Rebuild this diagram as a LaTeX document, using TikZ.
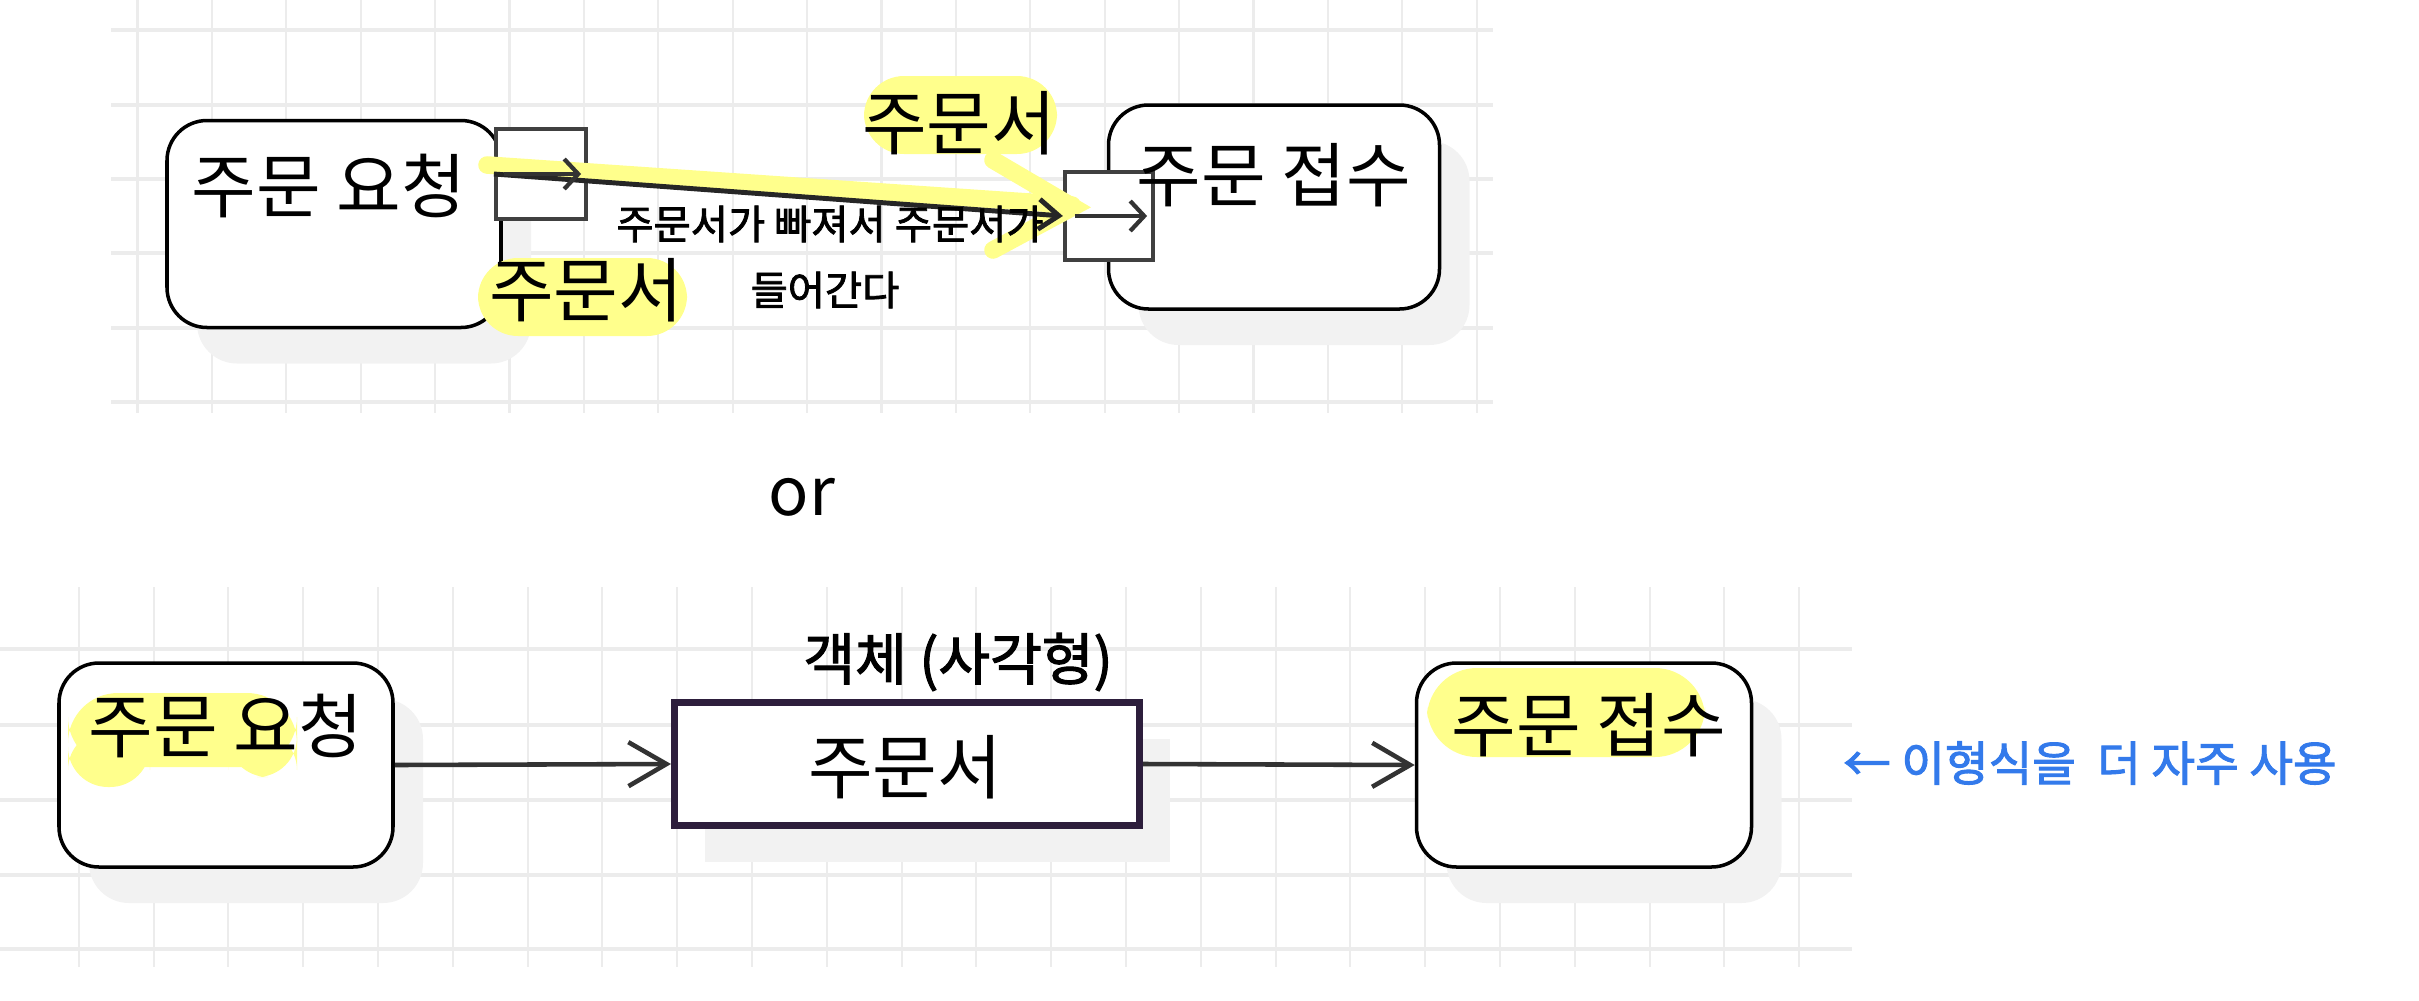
\documentclass[tikz,border=0pt]{standalone}
\usepackage{fontspec}
\setmainfont{Noto Sans CJK KR}
\newfontfamily\handfont{Noto Sans CJK KR}[FakeBold=2]
\usetikzlibrary{arrows.meta,shadows}
\definecolor{hl}{RGB}{255,255,140}
\definecolor{gridc}{RGB}{236,236,236}
\definecolor{pen}{RGB}{51,122,235}
\definecolor{edgec}{RGB}{45,30,60}

\begin{document}
\begin{tikzpicture}[x=0.1mm,y=-0.1mm,
	shade/.style={drop shadow={shadow xshift=3mm,shadow yshift=-3.6mm,fill=black!5,opacity=1}},
	box/.style={draw,line width=1pt,fill=white,rounded corners=4mm,inner sep=0pt,shade},
	pin/.style={draw=black!75,line width=1.2pt,fill=white,minimum size=9mm,inner sep=0pt},
	lbl/.style={font=\fontsize{20}{22}\selectfont,inner sep=0pt},
	hand/.style={font=\handfont\fontsize{11.5}{13}\selectfont,inner sep=0pt},
	hilite/.style={fill=hl,rounded corners=3mm},
	flow/.style={draw=black!80,line width=1.3pt,-{Straight Barb[length=3.8mm,width=4.4mm]}}]
	\useasboundingbox (0,0) rectangle (2419,1000);

	% grids
	\foreach \y in {30,105,179,253,328,402} \draw[gridc,line width=1.1pt] (111,\y) -- (1493,\y);
	\foreach \k in {0,...,18} \draw[gridc,line width=0.6pt] (137.5+74.4*\k,0) -- (137.5+74.4*\k,413);
	\foreach \y in {649,725,800,875,949} \draw[gridc,line width=1.1pt] (0,\y) -- (1852,\y);
	\foreach \k in {0,...,23} \draw[gridc,line width=0.6pt] (78.8+74.8*\k,587) -- (78.8+74.8*\k,967);

	% top: pins on the actions
	\node[box,minimum width=33.4mm,minimum height=20.7mm] (req1) at (334,224) {};
	\node[box,minimum width=33.1mm,minimum height=20.4mm] (acc1) at (1274,207) {};
	\node[pin] (lpin) at (541,174) {};
	\node[pin,minimum size=8.8mm] (rpin) at (1109,216) {};

	\fill[hilite,rounded corners=4mm] (478,258) rectangle (687,336);
	\fill[hilite,rounded corners=4mm] (864,76) rectangle (1057,154);
	\draw[hl,line width=5pt,line cap=round] (487,165) -- (1072,205);
	\draw[hl,line width=5pt,line cap=round] (993,160) -- (1073,207) -- (993,250);

	\draw[draw=black!85,line width=1.4pt,-{Straight Barb[length=2mm,width=3mm]}] (lpin.west) -- (rpin.west);
	\draw[draw=black!80,line width=1.2pt,-{Straight Barb[length=1.4mm,width=3mm]}] ([xshift=1mm]lpin.west) -- ([xshift=-0.7mm]lpin.east);
	\draw[draw=black!80,line width=1.2pt,-{Straight Barb[length=1.4mm,width=3mm]}] ([xshift=1.2mm]rpin.west) -- ([xshift=-0.8mm]rpin.east);

	\node[lbl] (t1) at (329,186) {주문 요청};
	\node[lbl] (t2) at (1274,175) {주문 접수};
	\node[lbl] (d1) at (586,290) {주문서};
	\node[lbl] (d2) at (959,123) {주문서};
	\node[hand] (n1) at (830,224) {주문서가 빠져서 주문서가};
	\node[hand] (n2) at (825,290) {들어간다};

	\node[font=\fontsize{19}{21}\selectfont] (or) at (802,497) {or};

	% bottom: object node
	\node[box,minimum width=33.4mm,minimum height=20.4mm] (req2) at (226,765) {};
	\node[box,minimum width=33.5mm,minimum height=20.4mm] (acc2) at (1584,765) {};
	\node[box,rounded corners=0pt,draw=edgec,line width=2pt,minimum width=46.5mm,minimum height=12.3mm,
		shade/.append style={shadow xshift=3.5mm,shadow yshift=-4.5mm}] (doc) at (907,764) {};

	\fill[hilite,rounded corners=5mm] (68,693) rectangle (297,767);
	\fill[hilite,rounded corners=4mm] (68,730) rectangle (150,787);
	\fill[hilite,rounded corners=4mm] (228,730) rectangle (297,777);
	\fill[hilite,rounded corners=5mm] (1427,668) rectangle (1705,757);

	\draw[flow] (req2.east) -- (doc.west);
	\draw[flow] (doc.east) -- (acc2.west);

	\node[lbl] (t3) at (226,726) {주문 요청};
	\node[lbl] (t4) at (905,767) {주문서};
	\node[lbl] (t5) at (1589,725) {주문 접수};
	\node[hand,font=\handfont\fontsize{16}{18}\selectfont] (n3) at (958,662) {객체 (사각형)};
	\node[hand,font=\handfont\fontsize{13.5}{15}\selectfont,text=pen] (n4) at (2090,763) {← 이형식을 \ 더 자주 사용};
\end{tikzpicture}
\end{document}
